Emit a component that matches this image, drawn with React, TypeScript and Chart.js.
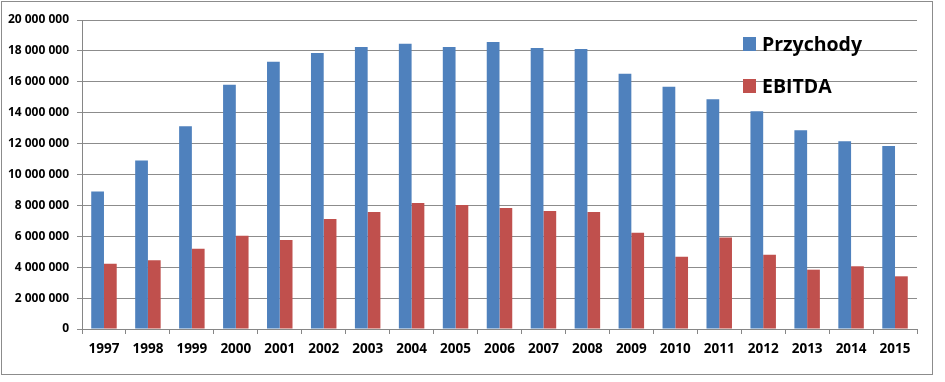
import React, { useEffect, useRef } from "react";
import { Chart, registerables } from "chart.js";

Chart.register(...registerables);

const years = ["1997","1998","1999","2000","2001","2002","2003","2004","2005","2006","2007","2008","2009","2010","2011","2012","2013","2014","2015"];
const przychody = [8900000,10900000,13120000,15810000,17300000,17870000,18250000,18470000,18250000,18580000,18190000,18120000,16520000,15680000,14870000,14090000,12860000,12150000,11840000];
const ebitda = [4230000,4450000,5200000,6040000,5760000,7120000,7570000,8160000,8030000,7830000,7640000,7570000,6230000,4680000,5930000,4810000,3840000,4060000,3410000];
const yTicks = [0,2000000,4000000,6000000,8000000,10000000,12000000,14000000,16000000,18000000,20000000];
const seriesNames = ["Przychody","EBITDA"];
const seriesColors = ["#4F81BD","#C0504D"];

const FONT = "'Open Sans', Lato, 'DejaVu Sans', sans-serif";

function fmt(v: number): string {
  return String(Math.round(v)).replace(/\B(?=(\d{3})+(?!\d))/g, " ");
}

const framePlugin = {
  id: "frame",
  beforeDraw(chart: any) {
    const ctx = chart.ctx;
    ctx.save();
    ctx.fillStyle = "#ffffff";
    ctx.fillRect(0, 0, chart.width, chart.height);
    ctx.strokeStyle = "#8c8c8c";
    ctx.lineWidth = 1;
    ctx.strokeRect(1.5, 1.5, 931, 373);
    ctx.restore();
  },
};

const legendPlugin = {
  id: "customLegend",
  afterDraw(chart: any) {
    const ctx = chart.ctx;
    ctx.save();
    const x = 743;
    const ys = [44, 86];
    chart.data.datasets.forEach((ds: any, i: number) => {
      ctx.fillStyle = ds.backgroundColor;
      ctx.fillRect(x, ys[i] - 7, 13, 14);
      ctx.fillStyle = "#000000";
      ctx.font = "bold 19.5px " + FONT;
      ctx.textBaseline = "middle";
      ctx.textAlign = "left";
      ctx.fillText(ds.label, x + 19, ys[i] + 1);
    });
    ctx.restore();
  },
};

export default function App() {
  const ref = useRef<HTMLCanvasElement | null>(null);
  useEffect(() => {
    document.body.style.margin = "0";
    const chart = new Chart(ref.current as HTMLCanvasElement, {
      type: "bar",
      data: {
        labels: years,
        datasets: [
          { label: seriesNames[0], data: przychody, backgroundColor: seriesColors[0], categoryPercentage: 0.58, barPercentage: 1 },
          { label: seriesNames[1], data: ebitda, backgroundColor: seriesColors[1], categoryPercentage: 0.58, barPercentage: 1 },
        ],
      },
      options: {
        animation: false,
        responsive: false,
        maintainAspectRatio: false,
        layout: { padding: { left: 0, top: 20, right: 28, bottom: 23 } },
        plugins: { legend: { display: false }, tooltip: { enabled: false } },
        scales: {
          x: {
            offset: true,
            grid: { display: true, drawOnChartArea: false, drawTicks: true, tickLength: 5, offset: true, color: "#868686" },
            border: { display: true, color: "#868686" },
            ticks: { color: "#000", font: { family: FONT, size: 13.5, weight: "bold" }, padding: 7, maxRotation: 0 },
            afterFit: (s: any) => { s.height = 30; },
          },
          y: {
            min: 0,
            max: 20000000,
            afterBuildTicks: (s: any) => { s.ticks = yTicks.map((v) => ({ value: v })); },
            grid: { color: "#8c8c8c", drawTicks: true, tickLength: 5 },
            border: { display: true, color: "#868686" },
            ticks: { color: "#000", font: { family: FONT, size: 12, weight: "bold" }, padding: 8, callback: (v: any) => fmt(Number(v)) },
            afterFit: (s: any) => { s.width = 82; },
          },
        },
      },
      plugins: [framePlugin, legendPlugin],
    });
    return () => chart.destroy();
  }, []);
  return (
    <div style={{ width: 945, height: 382 }}>
      <canvas ref={ref} width={945} height={382} style={{ width: 945, height: 382, display: "block" }} />
    </div>
  );
}
